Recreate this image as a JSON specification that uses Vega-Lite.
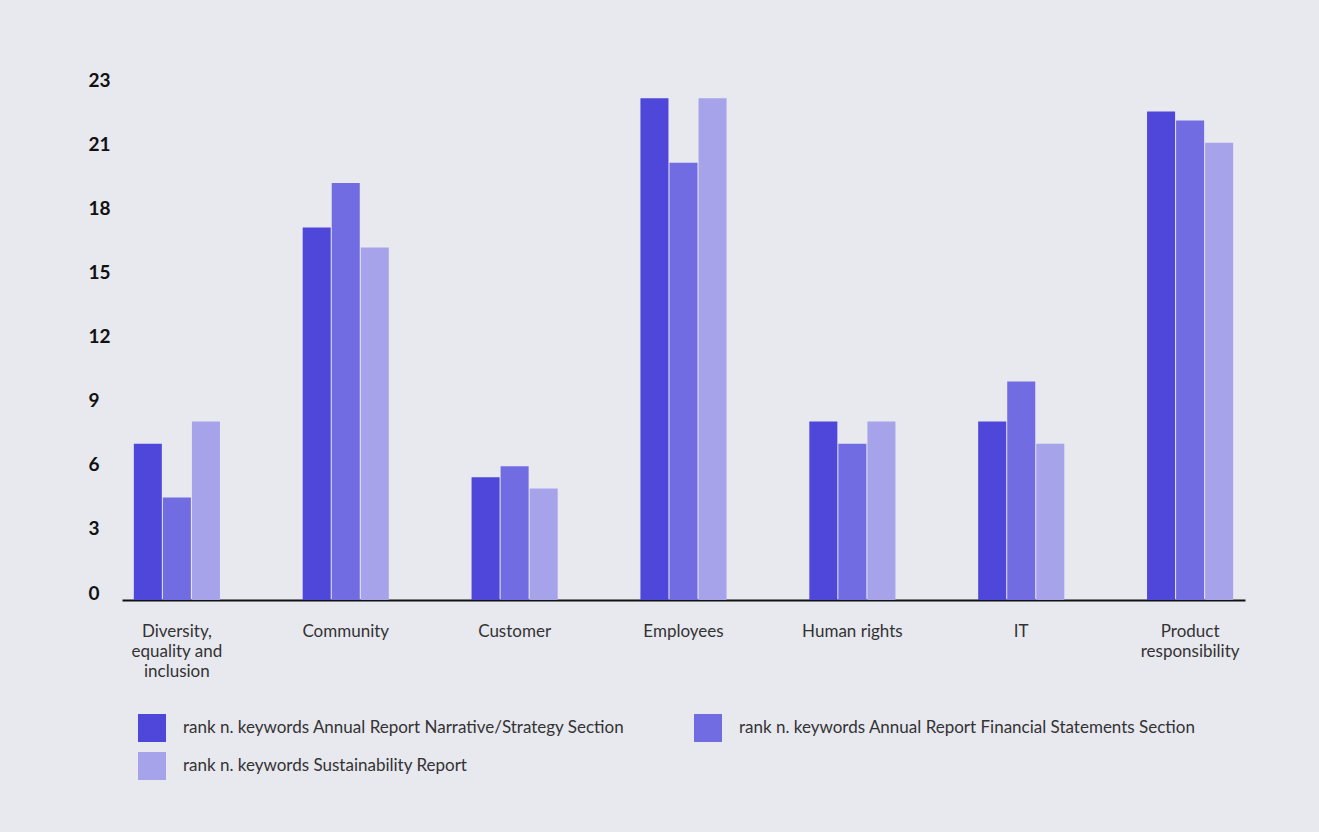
{
  "$schema": "https://vega.github.io/schema/vega-lite/v6.json",
  "width": 1123,
  "height": 513,
  "autosize": {"type": "none"},
  "padding": {"left": 122, "top": 87, "right": 74, "bottom": 232},
  "background": "#e8e8ef",
  "config": {"view": {"stroke": null}, "font": "Lato"},
  "data": {
    "values": [
      {"category": "Diversity, equality and inclusion", "series": "rank n. keywords Annual Report Narrative/Strategy Section", "value": 7},
      {"category": "Diversity, equality and inclusion", "series": "rank n. keywords Annual Report Financial Statements Section", "value": 4.6},
      {"category": "Diversity, equality and inclusion", "series": "rank n. keywords Sustainability Report", "value": 8},
      {"category": "Community", "series": "rank n. keywords Annual Report Narrative/Strategy Section", "value": 16.7},
      {"category": "Community", "series": "rank n. keywords Annual Report Financial Statements Section", "value": 18.7},
      {"category": "Community", "series": "rank n. keywords Sustainability Report", "value": 15.8},
      {"category": "Customer", "series": "rank n. keywords Annual Report Narrative/Strategy Section", "value": 5.5},
      {"category": "Customer", "series": "rank n. keywords Annual Report Financial Statements Section", "value": 6},
      {"category": "Customer", "series": "rank n. keywords Sustainability Report", "value": 5},
      {"category": "Employees", "series": "rank n. keywords Annual Report Narrative/Strategy Section", "value": 22.5},
      {"category": "Employees", "series": "rank n. keywords Annual Report Financial Statements Section", "value": 19.6},
      {"category": "Employees", "series": "rank n. keywords Sustainability Report", "value": 22.5},
      {"category": "Human rights", "series": "rank n. keywords Annual Report Narrative/Strategy Section", "value": 8},
      {"category": "Human rights", "series": "rank n. keywords Annual Report Financial Statements Section", "value": 7},
      {"category": "Human rights", "series": "rank n. keywords Sustainability Report", "value": 8},
      {"category": "IT", "series": "rank n. keywords Annual Report Narrative/Strategy Section", "value": 8},
      {"category": "IT", "series": "rank n. keywords Annual Report Financial Statements Section", "value": 9.8},
      {"category": "IT", "series": "rank n. keywords Sustainability Report", "value": 7},
      {"category": "Product responsibility", "series": "rank n. keywords Annual Report Narrative/Strategy Section", "value": 21.9},
      {"category": "Product responsibility", "series": "rank n. keywords Annual Report Financial Statements Section", "value": 21.5},
      {"category": "Product responsibility", "series": "rank n. keywords Sustainability Report", "value": 20.5}
    ]
  },
  "mark": {"type": "bar"},
  "encoding": {
    "x": {
      "field": "category",
      "type": "nominal",
      "sort": ["Diversity, equality and inclusion", "Community", "Customer", "Employees", "Human rights", "IT", "Product responsibility"],
      "scale": {"paddingInner": 0.49, "paddingOuter": 0.07},
      "axis": {
        "title": null,
        "domainColor": "#111111",
        "domainWidth": 2,
        "ticks": false,
        "tickSize": 0,
        "labelPadding": 23,
        "labelAngle": 0,
        "labelFontSize": 17,
        "labelColor": "#333333",
        "labelLineHeight": 20,
        "labelLimit": 300,
        "labelExpr": "datum.value == 'Diversity, equality and inclusion' ? ['Diversity,', 'equality and', 'inclusion'] : datum.value == 'Product responsibility' ? ['Product', 'responsibility'] : datum.label"
      }
    },
    "xOffset": {
      "field": "series",
      "type": "nominal",
      "sort": ["rank n. keywords Annual Report Narrative/Strategy Section", "rank n. keywords Annual Report Financial Statements Section", "rank n. keywords Sustainability Report"],
      "scale": {"paddingInner": 0.035, "paddingOuter": 0}
    },
    "y": {
      "field": "value",
      "type": "quantitative",
      "scale": {"domain": [0, 23], "nice": false},
      "axis": {
        "title": null,
        "domain": false,
        "ticks": false,
        "tickSize": 0,
        "grid": false,
        "values": [0, 2.875, 5.75, 8.625, 11.5, 14.375, 17.25, 20.125, 23],
        "labelExpr": "ceil(datum.value)",
        "labelAlign": "left",
        "labelPadding": 34,
        "labelBaseline": "alphabetic",
        "labelOffset": -1,
        "labelFontSize": 19,
        "labelFontWeight": "bold",
        "labelColor": "#111111",
        "labelOverlap": false,
        "labelFlush": false
      }
    },
    "color": {
      "field": "series",
      "type": "nominal",
      "scale": {
        "domain": ["rank n. keywords Annual Report Narrative/Strategy Section", "rank n. keywords Sustainability Report", "rank n. keywords Annual Report Financial Statements Section"],
        "range": ["#4e47d9", "#a7a3eb", "#716ce2"]
      },
      "legend": {
        "title": null,
        "orient": "none",
        "legendX": 16,
        "legendY": 627,
        "columns": 2,
        "columnPadding": 69,
        "rowPadding": 10,
        "padding": 0,
        "symbolType": "square",
        "symbolSize": 784,
        "symbolStrokeWidth": 0,
        "labelFontSize": 17,
        "labelColor": "#333333",
        "labelOffset": 17,
        "labelLimit": 0
      }
    }
  }
}
